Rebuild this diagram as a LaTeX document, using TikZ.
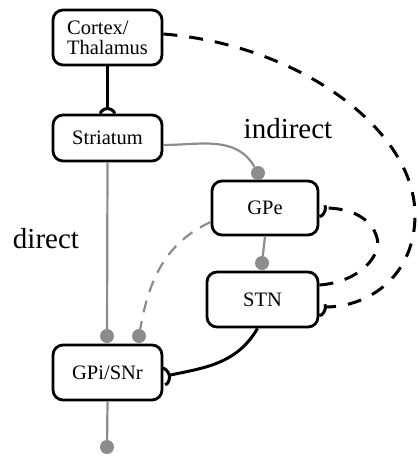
\documentclass[tikz,border=0pt]{standalone}
\usepackage{fontspec}
\setmainfont{Liberation Serif}
\usetikzlibrary{arrows.meta}
\definecolor{lgray}{RGB}{140,140,140}
\pgfdeclarearrow{
  name=Fork,
  parameters={\the\pgfarrowlength,\the\pgfarrowwidth},
  setup code={
    \pgfarrowssettipend{0pt}
    \pgfarrowssetlineend{-\pgfarrowlength}
    \pgfarrowssetbackend{-\pgfarrowlength}
    \pgfarrowssavethe\pgfarrowlength
    \pgfarrowssavethe\pgfarrowwidth
  },
  drawing code={
    \pgfpathmoveto{\pgfqpoint{0pt}{.5\pgfarrowwidth}}
    \pgfpathcurveto{\pgfqpoint{-.55\pgfarrowlength}{.5\pgfarrowwidth}}{\pgfqpoint{-\pgfarrowlength}{.22\pgfarrowwidth}}{\pgfqpoint{-\pgfarrowlength}{0pt}}
    \pgfpathcurveto{\pgfqpoint{-\pgfarrowlength}{-.22\pgfarrowwidth}}{\pgfqpoint{-.55\pgfarrowlength}{-.5\pgfarrowwidth}}{\pgfqpoint{0pt}{-.5\pgfarrowwidth}}
    \pgfusepathqstroke
  },
  defaults={length=6pt, width=16pt}
}
\begin{document}
\begin{tikzpicture}[x=1pt,y=-1pt,
 box/.style={draw,line width=2.8pt,rounded corners=10pt,minimum width=109pt,minimum height=55pt,inner sep=0pt,font=\fontsize{20.5}{20}\selectfont},
 gline/.style={draw=lgray,line width=2.2pt},
 bline/.style={draw=black,line width=3pt},
 dot/.style={circle,fill=lgray,minimum size=14pt,inner sep=0pt},
 exc/.style={-{Fork[length=6pt,width=17pt,line width=2.8pt]}},
 bdash/.style={dash pattern=on 14pt off 12pt},
 gdash/.style={dash pattern=on 12pt off 9pt},
 lab/.style={font=\fontsize{29}{29}\selectfont,anchor=base}]
\useasboundingbox (0,0) rectangle (418,456);
\node[box,align=left] (ctx) at (107.5,37.5) {Cortex/\\Thalamus};
\node[box,minimum height=46pt] (str) at (107.5,138) {Striatum};
\node[box,minimum width=106pt,minimum height=54pt] (gpe) at (265,208) {GPe};
\node[box,minimum width=111pt] (stn) at (262.5,299.5) {STN};
\node[box] (gpi) at (107.5,372.5) {GPi/SNr};
\node[dot] (d1) at (258,173) {};
\node[dot] (d2) at (107,336) {};
\node[dot] (d3) at (139,336) {};
\node[dot] (d4) at (262,263) {};
\node[dot] (d5) at (107,447) {};
\node[lab] (ind) at (288,138) {indirect};
\node[lab] (dir) at (46,248) {direct};
\draw[bline,-{Fork[length=5pt,width=14pt,line width=2.6pt]}] (ctx.south) -- (str.north);
\draw[gline] ([yshift=-7pt]str.east) to[out=0,in=120] (d1);
\draw[gline] (str.south) -- (d2);
\draw[gline,gdash] ([yshift=-14pt]gpe.west) to[out=205,in=80] (d3);
\draw[gline] (gpe.south) -- (d4);
\draw[gline] (gpi.south) -- (d5);
\draw[bline,exc] ([xshift=-5pt]stn.south) to[out=240,in=12] ([yshift=-4pt]gpi.east);
\draw[bline,bdash,exc] ([yshift=3.5pt]ctx.east) .. controls (300,45) and (415,130) .. (415,215) .. controls (415,275) and (370,307) .. ([yshift=-7.5pt]stn.east);
\draw[bline,bdash,exc] ([yshift=14.5pt]stn.east) .. controls (360,282) and (382,255) .. (377,238) .. controls (372,218) and (350,208) .. (gpe.east);
\end{tikzpicture}
\end{document}
